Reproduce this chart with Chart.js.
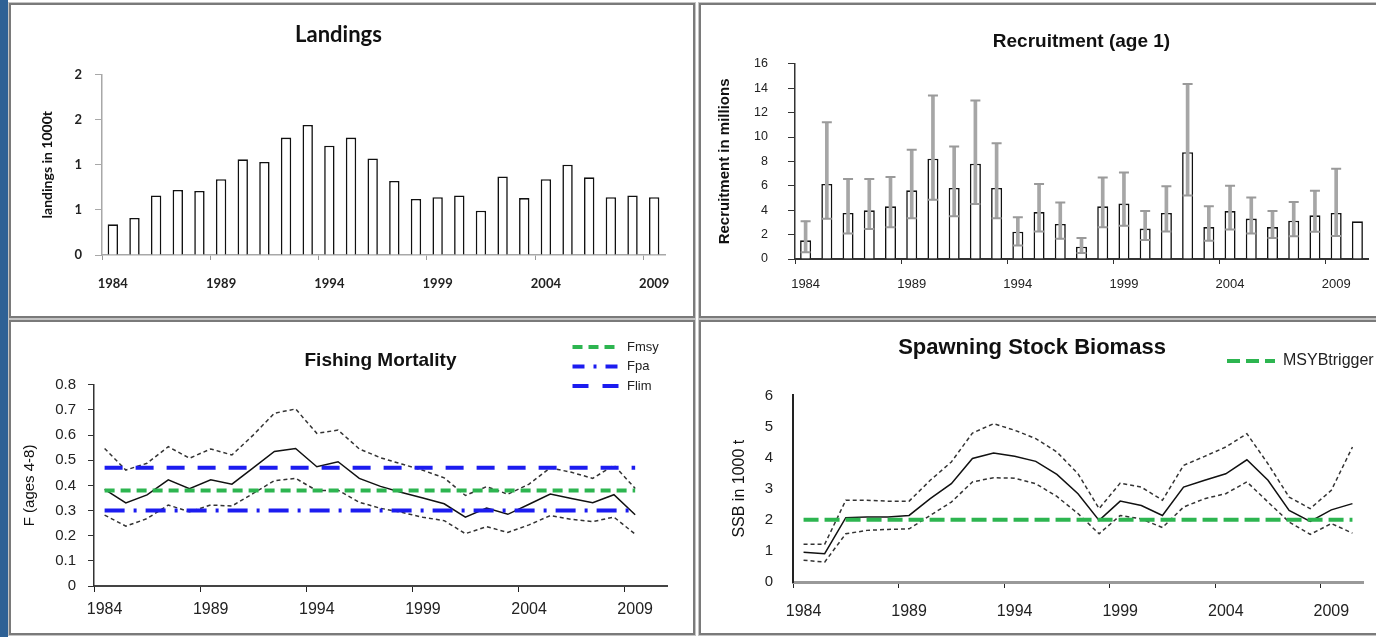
<!DOCTYPE html>
<html><head><meta charset="utf-8">
<script src="https://cdn.jsdelivr.net/npm/chart.js@4.4.1/dist/chart.umd.min.js"></script>
<style>
html,body{margin:0;padding:0;background:#fff;overflow:hidden;width:1376px;height:637px;position:relative;}
.strip{position:absolute;left:0;top:0;width:8px;height:637px;background:#2e6195;}
.panel{position:absolute;box-sizing:border-box;border:2px solid #7a7a7a;box-shadow:0 0 0 1px #c4c4c4;}
.wrap{position:absolute;}
</style></head><body>
<div class="strip"></div>
<div class="panel" style="left:9px;top:3px;width:686px;height:315px"></div>
<div class="panel" style="left:699px;top:3px;width:690px;height:315px"></div>
<div class="panel" style="left:9px;top:320px;width:686px;height:315px"></div>
<div class="panel" style="left:699px;top:320px;width:690px;height:315px"></div>
<div class="wrap" style="left:12px;top:6px;width:680px;height:310px"><canvas id="c1"></canvas></div>
<div class="wrap" style="left:701px;top:6px;width:675px;height:310px"><canvas id="c2"></canvas></div>
<div class="wrap" style="left:12px;top:324px;width:680px;height:308px"><canvas id="c3"></canvas></div>
<div class="wrap" style="left:701px;top:324px;width:675px;height:308px"><canvas id="c4"></canvas></div>
<div class="wrap" style="left:566px;top:334px;width:300px;height:70px"><canvas id="l3"></canvas></div>
<div class="wrap" style="left:1221px;top:347px;width:300px;height:60px"><canvas id="l4"></canvas></div>
<script>
// ---------- data ----------
const years = ['1984','1985','1986','1987','1988','1989','1990','1991','1992','1993','1994','1995','1996','1997','1998','1999','2000','2001','2002','2003','2004','2005','2006','2007','2008','2009','2010'];
const landingYears = ['1984','1985','1986','1987','1988','1989','1990','1991','1992','1993','1994','1995','1996','1997','1998','1999','2000','2001','2002','2003','2004','2005','2006','2007','2008','2009'];
const landings = [0.34,0.41,0.66,0.72,0.71,0.84,1.06,1.03,1.30,1.44,1.21,1.30,1.07,0.82,0.62,0.64,0.66,0.49,0.87,0.63,0.84,1.00,0.86,0.64,0.66,0.64];
const landingsYTickLabels = ['0','1','1','2','2'];

const recruitment = [1.53,6.15,3.77,3.99,4.32,5.63,8.22,5.82,7.81,5.82,2.24,3.85,2.87,1.01,4.32,4.54,2.49,3.77,8.76,2.62,3.93,3.31,2.62,3.14,3.58,3.77,3.09];
const recruitLow  = [0.55,3.30,2.10,2.45,2.60,3.35,4.85,3.50,4.50,3.35,1.10,2.25,1.65,0.50,2.60,2.72,1.55,2.26,5.20,1.50,2.42,2.08,1.72,1.86,2.23,1.88,null];
const recruitHigh = [3.10,11.20,6.56,6.56,6.72,8.96,13.40,9.23,13.00,9.48,3.42,6.15,4.64,1.72,6.69,7.10,3.93,5.96,14.34,4.32,6.01,5.05,3.93,4.67,5.60,7.40,null];

const fMort = [0.384,0.330,0.362,0.422,0.387,0.422,0.405,0.470,0.535,0.547,0.474,0.494,0.428,0.396,0.372,0.350,0.327,0.274,0.310,0.285,0.325,0.366,0.348,0.331,0.363,0.283];
const fHigh = [0.547,0.461,0.488,0.554,0.508,0.545,0.521,0.600,0.687,0.704,0.607,0.620,0.545,0.510,0.485,0.460,0.430,0.360,0.395,0.365,0.405,0.470,0.452,0.428,0.480,0.388];
const fLow  = [0.282,0.238,0.268,0.322,0.295,0.322,0.318,0.368,0.419,0.428,0.379,0.381,0.333,0.309,0.293,0.273,0.260,0.208,0.236,0.213,0.243,0.280,0.265,0.256,0.274,0.206];
const FMSY = 0.38, FPA = 0.30, FLIM = 0.47;
const refStart = '1984', fRefEnd = '2009';

const ssb     = [0.96,0.91,2.07,2.09,2.09,2.14,2.68,3.16,3.97,4.15,4.04,3.88,3.46,2.84,1.98,2.60,2.46,2.14,3.05,3.27,3.48,3.93,3.27,2.30,1.95,2.32,2.52];
const ssbHigh = [1.21,1.21,2.63,2.63,2.60,2.60,3.27,3.86,4.79,5.09,4.88,4.61,4.18,3.48,2.36,3.18,3.05,2.63,3.75,4.04,4.34,4.77,3.80,2.73,2.36,2.95,4.34];
const ssbLow  = [0.70,0.64,1.55,1.66,1.69,1.71,2.14,2.57,3.22,3.35,3.34,3.16,2.75,2.20,1.55,2.14,2.03,1.75,2.41,2.68,2.84,3.22,2.57,1.93,1.53,1.88,1.57];
const MSYBTRIGGER = 2;
const ssbRefEnd = '2010';

// ---------- common ----------
const GREEN = '#2db550', BLUE = '#1c1cf0';
const ARIAL = 'Liberation Sans';
const every5 = c => (c.index % 5 === 0);
function xTickCb(v, i){ return i % 5 === 0 ? this.getLabelForValue(v) : ''; }
const base = {responsive:true, maintainAspectRatio:false, animation:false, events:[]};

// ---------- Landings ----------
new Chart(document.getElementById('c1'), {
  type:'bar',
  data:{labels:landingYears, datasets:[{data:landings, backgroundColor:'#fff', borderColor:'#111', borderWidth:1.6, barPercentage:0.48, categoryPercentage:1}]},
  options:Object.assign({}, base, {
    layout:{padding:{left:0,right:27,top:0,bottom:0}},
    plugins:{legend:{display:false}, tooltip:{enabled:false},
      title:{display:true, text:'Landings', color:'#111', font:{family:'Lato', weight:'bold', size:22}, padding:{top:16,bottom:26}}},
    scales:{
      x:{offset:true,
         grid:{offset:true, drawOnChartArea:false, tickLength:5, color:c=>every5(c)?'#999':'rgba(0,0,0,0)'},
         border:{color:'#a8a8a8', width:1.5},
         ticks:{autoSkip:false, maxRotation:0, padding:16, color:'#222', font:{family:'Lato', weight:'bold', size:13}, callback:xTickCb},
         afterFit:s=>{s.height=61;}},
      y:{min:0, max:2,
         ticks:{stepSize:0.5, padding:13, color:'#222', font:{family:'Lato', weight:'bold', size:13}, callback:(v,i)=>landingsYTickLabels[i]},
         grid:{drawOnChartArea:false, tickLength:7, color:'#a8a8a8'},
         border:{color:'#a8a8a8', width:1.5},
         title:{display:true, text:'landings in 1000t', color:'#111', font:{family:'Lato', weight:'bold', size:14}, padding:{top:27,bottom:0}},
         afterFit:s=>{s.width=90;}}
    }
  })
});

// ---------- Recruitment ----------
const recruitRange = recruitLow.map((l,i)=> l==null ? null : [l, recruitHigh[i]]);
const capStyle = {type:'line', showLine:false, pointStyle:'line', pointRadius:5, pointBorderColor:'#9a9a9a', pointBorderWidth:2, order:1};
new Chart(document.getElementById('c2'), {
  type:'bar',
  data:{labels:years, datasets:[
    Object.assign({data:recruitHigh}, capStyle),
    Object.assign({data:recruitLow}, capStyle),
    {type:'bar', data:recruitRange, backgroundColor:'#a6a6a6', borderWidth:0, barThickness:3, grouped:false, order:2},
    {type:'bar', data:recruitment, backgroundColor:'#fff', borderColor:'#111', borderWidth:1.6, barPercentage:0.52, categoryPercentage:1, grouped:false, order:3}
  ]},
  options:Object.assign({}, base, {
    layout:{padding:{left:0,right:8,top:0,bottom:0}},
    plugins:{legend:{display:false}, tooltip:{enabled:false},
      title:{display:true, fullSize:false, text:'Recruitment (age 1)', color:'#111', font:{family:ARIAL, weight:'bold', size:19}, padding:{top:24,bottom:11}}},
    scales:{
      x:{offset:true,
         grid:{offset:true, drawOnChartArea:false, tickLength:5, color:c=>every5(c)?'#333':'rgba(0,0,0,0)'},
         border:{color:'#333', width:2},
         ticks:{autoSkip:false, maxRotation:0, padding:13, color:'#222', font:{family:ARIAL, size:13}, callback:xTickCb},
         afterFit:s=>{s.height=57;}},
      y:{min:0, max:16,
         ticks:{stepSize:2, padding:20, color:'#222', font:{family:ARIAL, size:12.5}},
         grid:{drawOnChartArea:false, tickLength:7, color:'#333'},
         border:{color:'#333', width:1.5},
         title:{display:true, text:'Recruitment in millions', color:'#111', font:{family:ARIAL, weight:'bold', size:15}, padding:{top:15,bottom:0}},
         afterFit:s=>{s.width=94;}}
    }
  })
});

// ---------- Fishing mortality ----------
const ciStyle = {borderColor:'#333', borderWidth:1.5, borderDash:[4,3], pointRadius:0, tension:0, order:2};
new Chart(document.getElementById('c3'), {
  type:'line',
  data:{labels:years, datasets:[
    {label:'Fmsy', data:[{x:refStart,y:FMSY},{x:fRefEnd,y:FMSY}], borderColor:GREEN, borderWidth:4, borderDash:[10,6], pointRadius:0, order:1},
    {label:'Fpa', data:[{x:refStart,y:FPA},{x:fRefEnd,y:FPA}], borderColor:BLUE, borderWidth:4, borderDash:[20,9,3,9], pointRadius:0, order:1},
    {label:'Flim', data:[{x:refStart,y:FLIM},{x:fRefEnd,y:FLIM}], borderColor:BLUE, borderWidth:4, borderDash:[18,13], pointRadius:0, order:1},
    {label:'F', data:fMort, borderColor:'#111', borderWidth:1.5, pointRadius:0, tension:0, order:2},
    Object.assign({label:'F high', data:fHigh}, ciStyle),
    Object.assign({label:'F low', data:fLow}, ciStyle)
  ]},
  options:Object.assign({}, base, {
    layout:{padding:{left:0,right:25,top:0,bottom:0}},
    plugins:{legend:{display:false}, tooltip:{enabled:false},
      title:{display:true, fullSize:false, text:'Fishing Mortality', color:'#111', font:{family:ARIAL, weight:'bold', size:19}, padding:{top:25,bottom:13}}},
    scales:{
      x:{offset:true,
         grid:{offset:true, drawOnChartArea:false, tickLength:6, color:c=>every5(c)?'#222':'rgba(0,0,0,0)'},
         border:{color:'#444', width:2},
         ticks:{autoSkip:false, maxRotation:0, padding:8, color:'#222', font:{family:ARIAL, size:16}, callback:xTickCb},
         afterFit:s=>{s.height=46;}},
      y:{min:0, max:0.8,
         ticks:{stepSize:0.1, padding:12, color:'#222', font:{family:ARIAL, size:15}},
         grid:{drawOnChartArea:false, tickLength:6, color:'#333'},
         border:{color:'#333', width:1.5},
         title:{display:true, text:'F (ages 4-8)', color:'#111', font:{family:ARIAL, size:15}, padding:{top:9,bottom:0}},
         afterFit:s=>{s.width=82;}}
    }
  })
});

// ---------- SSB ----------
const ssbCi = {borderColor:'#333', borderWidth:1.5, borderDash:[4,3], pointRadius:0, tension:0, order:2};
new Chart(document.getElementById('c4'), {
  type:'line',
  data:{labels:years, datasets:[
    {label:'MSYBtrigger', data:[{x:refStart,y:MSYBTRIGGER},{x:ssbRefEnd,y:MSYBTRIGGER}], borderColor:GREEN, borderWidth:4, borderDash:[15,6], pointRadius:0, order:1},
    {label:'SSB', data:ssb, borderColor:'#111', borderWidth:1.5, pointRadius:0, tension:0, order:2},
    Object.assign({label:'SSB high', data:ssbHigh}, ssbCi),
    Object.assign({label:'SSB low', data:ssbLow}, ssbCi)
  ]},
  options:Object.assign({}, base, {
    layout:{padding:{left:0,right:13,top:0,bottom:0}},
    plugins:{legend:{display:false}, tooltip:{enabled:false},
      title:{display:true, text:'Spawning Stock Biomass', color:'#111', font:{family:ARIAL, weight:'bold', size:22}, padding:{top:11,bottom:34}}},
    scales:{
      x:{offset:true,
         grid:{offset:true, drawOnChartArea:false, tickLength:6, color:c=>every5(c)?'#222':'rgba(0,0,0,0)'},
         border:{color:'#999', width:3},
         ticks:{autoSkip:false, maxRotation:0, padding:14, color:'#222', font:{family:ARIAL, size:16}, callback:xTickCb},
         afterFit:s=>{s.height=50;}},
      y:{min:0, max:6,
         ticks:{stepSize:1, padding:20, color:'#222', font:{family:ARIAL, size:15}},
         grid:{drawOnChartArea:false, drawTicks:false},
         border:{color:'#222', width:2},
         title:{display:true, text:'SSB in 1000 t', color:'#111', font:{family:ARIAL, size:16}, padding:{top:29,bottom:0}},
         afterFit:s=>{s.width=92;}}
    }
  })
});

// ---------- legends ----------
function legendChart(id, position, padding, fontSize, items){
  new Chart(document.getElementById(id), {
    type:'line',
    data:{labels:[], datasets:items.map(it=>Object.assign({data:[]}, it))},
    options:Object.assign({}, base, {
      layout:{padding:0},
      scales:{x:{display:false}, y:{display:false}},
      plugins:{tooltip:{enabled:false},
        legend:{display:true, position:position, align:'start',
          labels:{usePointStyle:true, pointStyle:'line', pointStyleWidth:48, padding:padding, color:'#222',
            font:{family:ARIAL, size:fontSize},
            generateLabels:ch=>ch.data.datasets.map((d,i)=>({text:d.label, strokeStyle:d.borderColor, fillStyle:d.borderColor,
              lineWidth:d.borderWidth, lineDash:d.borderDash, lineCap:'butt', pointStyle:'line', hidden:false, datasetIndex:i, fontColor:'#222'}))}}}
    })
  });
}
legendChart('l3', 'left', 6.5, 13, [
  {label:'Fmsy', borderColor:GREEN, borderWidth:4, borderDash:[10,6]},
  {label:'Fpa', borderColor:BLUE, borderWidth:4, borderDash:[12,9,3,9]},
  {label:'Flim', borderColor:BLUE, borderWidth:4, borderDash:[16,14]}
]);
legendChart('l4', 'top', 6, 16, [
  {label:'MSYBtrigger', borderColor:GREEN, borderWidth:4, borderDash:[13,6]}
]);
</script>
</body></html>
